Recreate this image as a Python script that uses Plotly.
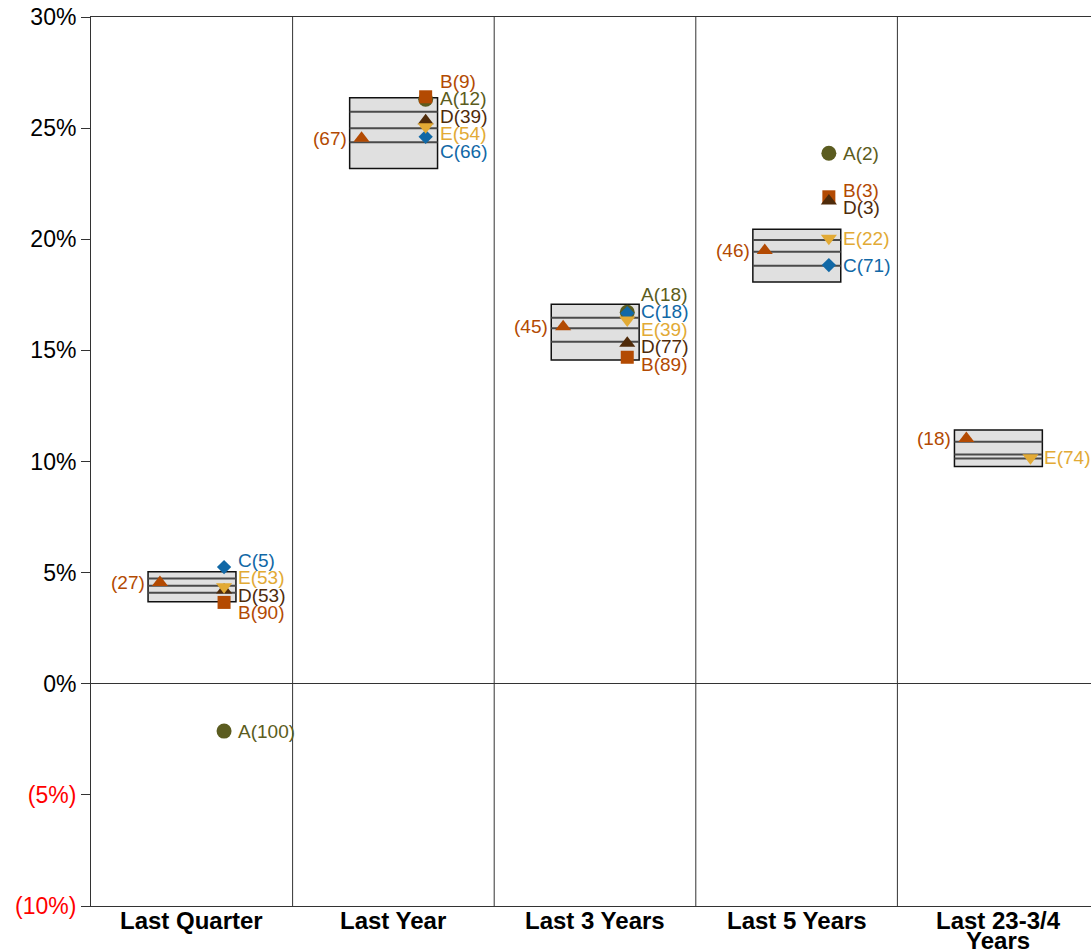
import plotly.graph_objects as go

# ---------------- data ----------------
categories = ["Last Quarter", "Last Year", "Last 3 Years", "Last 5 Years", "Last 23-3/4|Years"]

# peer-group percentile box (top = 5th pct, bottom = 95th pct)
pct05 = [5.04, 26.37, 17.07, 20.45, 11.42]
pct25 = [4.74, 25.74, 16.47, 19.97, 10.89]
pct50 = [4.41, 24.99, 15.99, 19.44, 10.32]
pct75 = [4.10, 24.36, 15.39, 18.81, 10.14]
pct95 = [3.69, 23.18, 14.57, 18.08, 9.77]

# fund (triangle on the left of each box)
fund_vals = [4.56, 24.54, 16.06, 19.49, 11.04]
fund_ranks = [27, 67, 45, 46, 18]

# comparison series (right side of each box)
series_names = ["A", "B", "C", "D", "E"]
A_vals = [-2.13, 26.30, 16.71, 23.87, None]
A_ranks = [100, 12, 18, 2, None]
B_vals = [3.66, 26.41, 14.69, 21.91, None]
B_ranks = [90, 9, 89, 3, None]
C_vals = [5.25, 24.61, 16.67, 18.84, None]
C_ranks = [5, 66, 18, 71, None]
D_vals = [4.22, 25.33, 15.32, 21.72, None]
D_ranks = [53, 39, 77, 3, None]
E_vals = [4.37, 25.06, 16.37, 20.04, 10.17]
E_ranks = [53, 54, 39, 22, 74]

y_ticks = [30, 25, 20, 15, 10, 5, 0, -5, -10]

# ---------------- style ----------------
FONT = "Liberation Sans, Arial, sans-serif"
LINE = "#333333"
colors = {"A": "#5b5c20", "B": "#b34a02", "C": "#1168a6", "D": "#4f2b0a", "E": "#e2aa35"}
symbols = {"A": "circle", "B": "square", "C": "diamond", "D": "triangle-up", "E": "triangle-down"}
sizes = {"A": 15, "B": 13, "C": 11, "D": 14, "E": 14}
FUND_COLOR = "#b34a02"

W, H = 1091, 952
ML, MR, MT, MB = 91, 0, 17, 46
plot_w = W - ML - MR
plot_h = H - MT - MB
panel_px = 201.6
x_max = plot_w / panel_px
y_min, y_max = -10, 30
px_per_unit = plot_h / (y_max - y_min)

BOX_L, BOX_R = 0.283, 0.719
FUND_X = 0.342
SER_X = 0.66

series_data = {
    "A": (A_vals, A_ranks), "B": (B_vals, B_ranks), "C": (C_vals, C_ranks),
    "D": (D_vals, D_ranks), "E": (E_vals, E_ranks),
}

fig = go.Figure()
shapes = []
annotations = []

# boxes
for i in range(len(categories)):
    shapes.append(dict(type="rect", xref="x", yref="y", x0=i + BOX_L, x1=i + BOX_R,
                       y0=pct95[i], y1=pct05[i], fillcolor="#e0e0e0",
                       line=dict(color="#111111", width=1.5), layer="below"))
    for v in (pct25[i], pct50[i], pct75[i]):
        shapes.append(dict(type="line", xref="x", yref="y", x0=i + BOX_L, x1=i + BOX_R,
                           y0=v, y1=v, line=dict(color="#4a4a4a", width=2), layer="below"))

# panel separators
for i in range(1, len(categories)):
    shapes.append(dict(type="line", xref="x", yref="paper", x0=i, x1=i, y0=0, y1=1,
                       line=dict(color=LINE, width=1), layer="below"))

# fund markers
fig.add_trace(go.Scatter(
    x=[i + FUND_X for i in range(len(categories))], y=fund_vals, mode="markers",
    marker=dict(symbol="triangle-up", size=14, color=FUND_COLOR, line=dict(width=0)),
    showlegend=False, hoverinfo="skip"))
for i, (v, r) in enumerate(zip(fund_vals, fund_ranks)):
    annotations.append(dict(x=i + FUND_X, y=v, xref="x", yref="y", text=f"({r})",
                            showarrow=False, xanchor="right", yanchor="middle", xshift=-13,
                            font=dict(family=FONT, size=19, color=FUND_COLOR)))

# comparison series markers
for name in series_names:
    vals, ranks = series_data[name]
    xs = [i + SER_X for i, v in enumerate(vals) if v is not None]
    ys = [v for v in vals if v is not None]
    fig.add_trace(go.Scatter(
        x=xs, y=ys, mode="markers",
        marker=dict(symbol=symbols[name], size=sizes[name], color=colors[name], line=dict(width=0)),
        showlegend=False, hoverinfo="skip"))

# label de-overlap (pixel space, spread groups around their mean)
GAP = 17.5
for i in range(len(categories)):
    items = []
    for name in series_names:
        vals, ranks = series_data[name]
        if vals[i] is not None:
            items.append((-vals[i] * px_per_unit, name, ranks[i]))
    items.sort(key=lambda t: t[0])
    groups = [[it] for it in items]

    def positions(g):
        m = sum(t[0] for t in g) / len(g)
        return [m - (len(g) - 1) / 2 * GAP + k * GAP for k in range(len(g))]

    merged = True
    while merged:
        merged = False
        for k in range(len(groups) - 1):
            if positions(groups[k])[-1] + GAP > positions(groups[k + 1])[0]:
                groups[k] = groups[k] + groups[k + 1]
                del groups[k + 1]
                merged = True
                break
    for g in groups:
        for (t, name, rank), p in zip(g, positions(g)):
            annotations.append(dict(x=i + SER_X, y=-p / px_per_unit, xref="x", yref="y",
                                    text=f"{name}({rank})", showarrow=False,
                                    xanchor="left", yanchor="middle", xshift=12,
                                    font=dict(family=FONT, size=19, color=colors[name])))

# category labels (bold, possibly two lines)
for i, c in enumerate(categories):
    for k, line in enumerate(c.split("|")):
        annotations.append(dict(x=i + 0.5, y=0, xref="x", yref="paper", text=f"<b>{line}</b>",
                                showarrow=False, xanchor="center", yanchor="top",
                                yshift=1 - k * 20,
                                font=dict(family=FONT, size=24, color="#000000")))

tick_text = []
for t in y_ticks:
    if t < 0:
        tick_text.append(f"<span style='color:#ff0000'>({abs(t)}%)</span>")
    else:
        tick_text.append(f"{t}%")

fig.update_layout(
    width=W, height=H,
    margin=dict(l=ML, r=MR, t=MT, b=MB, pad=0),
    paper_bgcolor="white", plot_bgcolor="white",
    showlegend=False,
    shapes=shapes, annotations=annotations,
    xaxis=dict(range=[0, x_max], showgrid=False, zeroline=False, showticklabels=False,
               showline=True, linecolor=LINE, linewidth=1, mirror=True, ticks="",
               automargin=False, fixedrange=True),
    yaxis=dict(range=[y_min, y_max], tickvals=y_ticks, ticktext=tick_text,
               showgrid=False, zeroline=True, zerolinecolor=LINE, zerolinewidth=1,
               showline=True, linecolor=LINE, linewidth=1, ticks="outside", ticklen=9,
               tickcolor=LINE, tickfont=dict(family=FONT, size=23, color="#000000"),
               ticklabeloverflow="allow", automargin=False, fixedrange=True),
)

fig.write_html(
    "out.html",
    config={"displayModeBar": False},
    post_script="document.body.style.margin='0';document.body.style.overflow='hidden';",
)
